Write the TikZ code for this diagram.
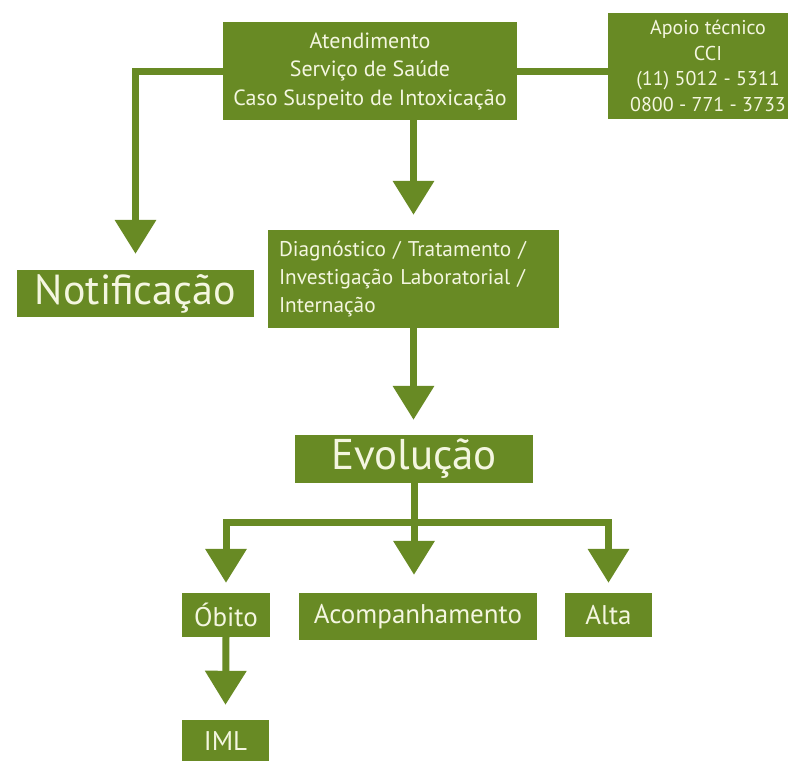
\documentclass[tikz,border=0pt]{standalone}
\usepackage{fontspec}
\setmainfont{PT Sans}
\usetikzlibrary{arrows.meta,calc}
\definecolor{oliveG}{RGB}{104,138,36}
\definecolor{cream}{RGB}{244,246,224}
\begin{document}
\begin{tikzpicture}[x=1pt,y=-1pt,
  box/.style={fill=oliveG, text=cream, inner sep=0pt, align=center},
  conn/.style={draw=oliveG, line width=7pt},
  arr/.style={conn, -{Triangle[width=40pt,length=34pt]}}]
\useasboundingbox (0,0) rectangle (788,761);
\clip (0,0) rectangle (788,761);
\fill[white] (0,0) rectangle (788,761);
% boxes
\node[box, minimum width=294pt, minimum height=98pt, font=\fontsize{22}{28.5}\selectfont] (aten) at (370,71)
  {Atendimento\\Serviço de Saúde\\Caso Suspeito de Intoxicação};
\node[box, minimum width=200pt, minimum height=106pt, font=\fontsize{20}{25.5}\selectfont] (apoio) at (708,66)
  {Apoio técnico\\CCI\\(11) 5012 - 5311\\0800 - 771 - 3733};
\node[box, text width=269pt, inner xsep=11pt, minimum height=98pt, align=left, font=\fontsize{21.3}{28}\selectfont] (diag) at (413.5,279)
  {Diagnóstico / Tratamento /\\Investigação Laboratorial /\\Internação};
\node[box, minimum width=237pt, minimum height=47pt, font=\fontsize{42}{44}\selectfont] (notif) at (135.5,293.5) {Notificação};
\node[box, minimum width=238pt, minimum height=48pt, font=\fontsize{43}{44}\selectfont] (evol) at (414,459) {Evolução};
\node[box, minimum width=88pt, minimum height=44pt, font=\fontsize{27}{28}\selectfont] (obito) at (226,615) {Óbito};
\node[box, minimum width=238pt, minimum height=47pt, font=\fontsize{27}{28}\selectfont] (acomp) at (418,616.5) {Acompanhamento};
\node[box, minimum width=87pt, minimum height=44pt, font=\fontsize{27}{28}\selectfont] (alta) at (608.5,615) {Alta};
\node[box, minimum width=87pt, minimum height=42pt, font=\fontsize{27}{28}\selectfont] (iml) at (225.5,741) {IML};
% connectors
\draw[conn] (aten.east) -- (aten.east -| apoio.west);
\draw[arr] (aten.west) -| ($(notif.north)+(0,-16)$);
\draw[arr] (aten.south -| diag.north) -- ($(diag.north)+(0,-15)$);
\draw[arr] (diag.south) -- ($(diag.south |- evol.north)+(0,-15)$);
\coordinate (jn) at ($(evol.south)+(0,39)$);
\draw[conn] (evol.south) -- (jn);
\draw[arr] (jn) -| ($(obito.north)+(0,-10)$);
\draw[arr] (jn) -| ($(alta.north)+(0,-10)$);
\draw[arr] (jn) -- ($(jn |- acomp.north)+(0,-18)$);
\draw[arr] (obito.south) -- ($(iml.north)+(0,-15)$);
\end{tikzpicture}
\end{document}
